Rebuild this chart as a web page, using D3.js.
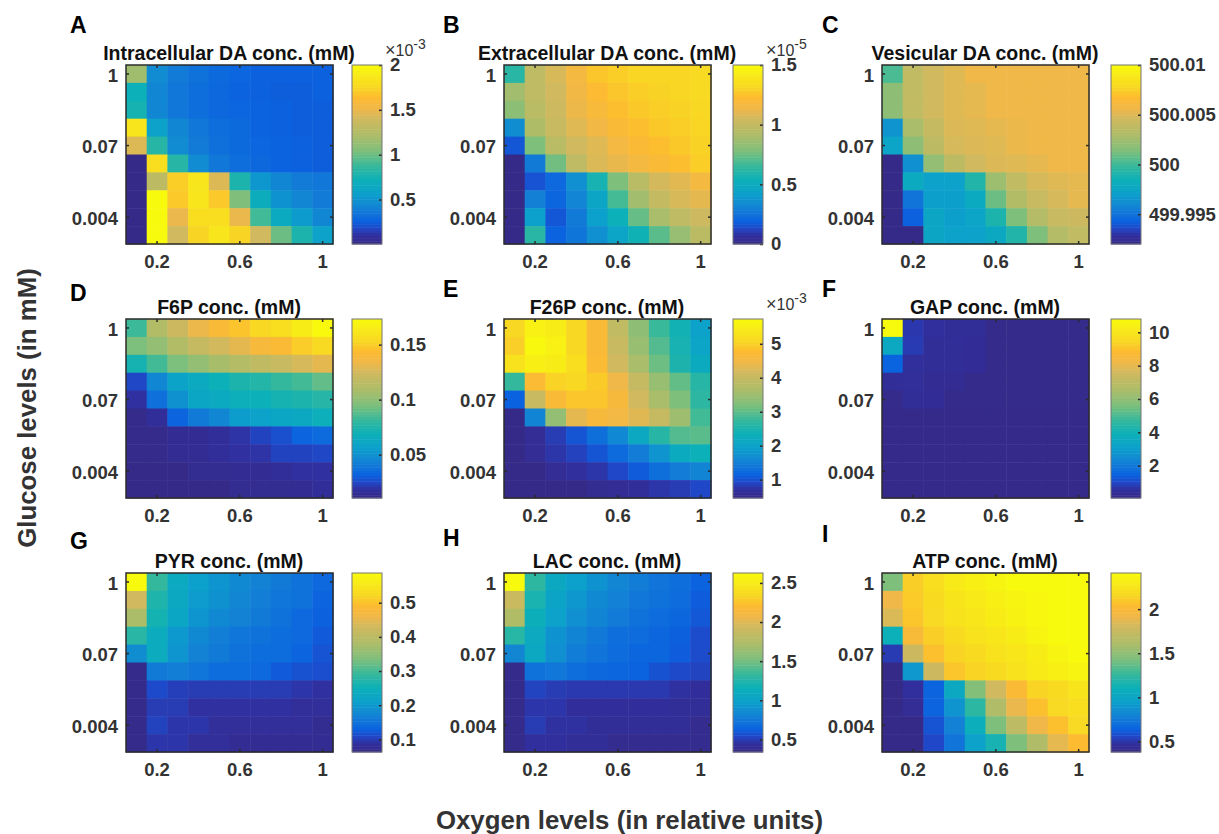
<!DOCTYPE html>
<html>
<head>
<meta charset="utf-8">
<script src="https://cdn.jsdelivr.net/npm/d3@7"></script>
<style>
    html, body { margin: 0; padding: 0; background: #fff; }
    svg { display: block; }
    text { font-family: "Liberation Sans", Arial, sans-serif; font-weight: bold; }
</style>
</head>
<body>
<svg id="chart" width="1219" height="834"></svg>
<script>
// axis levels
const oxygenLevels = [0.1, 0.2, 0.3, 0.4, 0.5, 0.6, 0.7, 0.8, 0.9, 1];
const glucoseRows = [0, 1, 2, 3, 4, 5, 6, 7, 8, 9];
const oxygenTicks = [0.2, 0.6, 1];
const glucoseTicks = [0, 4, 8];
const glucoseTickLabels = ['1', '0.07', '0.004'];

// values, top row first
const intracellularDA = [
    [1.17, .46, .38, .34, .30, .28, .26, .26, .26, .26],
    [.72, .44, .36, .32, .29, .27, .26, .25, .25, .26],
    [.76, .44, .36, .32, .29, .28, .27, .26, .25, .25],
    [1.85, .58, .44, .36, .32, .30, .27, .26, .25, .25],
    [1.45, .82, .46, .38, .33, .30, .28, .27, .26, .25],
    [.01, 1.8, .82, .46, .36, .32, .29, .27, .26, .25],
    [.01, 1.3, 1.72, 1.85, 1.45, .78, .52, .44, .38, .36],
    [.01, 2.0, 1.7, 1.85, 1.7, 1.05, .68, .50, .43, .38],
    [.01, 2.0, 1.5, 1.8, 1.8, 1.5, .9, .66, .54, .44],
    [.01, 2.0, 1.4, 1.75, 1.85, 1.75, 1.4, 1.0, .78, .58]
];
const extracellularDA = [
    [.62, .98, 1.07, 1.17, 1.26, 1.29, 1.31, 1.31, 1.31, 1.33],
    [.88, .98, 1.05, 1.15, 1.22, 1.26, 1.29, 1.3, 1.31, 1.33],
    [.82, .96, 1.04, 1.13, 1.19, 1.24, 1.27, 1.29, 1.3, 1.32],
    [.35, .92, 1.02, 1.09, 1.15, 1.2, 1.24, 1.27, 1.29, 1.31],
    [.17, .78, .96, 1.05, 1.09, 1.16, 1.21, 1.24, 1.27, 1.3],
    [0, .28, .76, .98, 1.08, 1.12, 1.17, 1.2, 1.24, 1.29],
    [0, .16, .22, .36, .57, .78, .96, 1.06, 1.1, 1.17],
    [0, .3, .21, .32, .46, .68, .88, 1.0, 1.07, 1.11],
    [0, .42, .17, .28, .42, .54, .74, .9, .98, 1.04],
    [0, .62, .2, .26, .36, .45, .55, .72, .85, .97]
];
const vesicularDA = [
    [500.0003, 500.0039, 500.0046, 500.0051, 500.0057, 500.0057, 500.0057, 500.0057, 500.0057, 500.0057],
    [500.0019, 500.0039, 500.0046, 500.0051, 500.0053, 500.0057, 500.0057, 500.0057, 500.0057, 500.0057],
    [500.0019, 500.0039, 500.0046, 500.0051, 500.0053, 500.0057, 500.0057, 500.0057, 500.0057, 500.0057],
    [499.9965, 500.0028, 500.0041, 500.0050, 500.0051, 500.0053, 500.0055, 500.0057, 500.0057, 500.0057],
    [499.9974, 500.0019, 500.0037, 500.0048, 500.0050, 500.0051, 500.0055, 500.0057, 500.0057, 500.0057],
    [499.992, 499.9963, 500.0021, 500.0037, 500.0046, 500.0050, 500.0051, 500.0053, 500.0057, 500.0057],
    [499.992, 499.9979, 499.9972, 499.9972, 499.9992, 500.0024, 500.0039, 500.0048, 500.0051, 500.0053],
    [499.992, 499.9951, 499.9970, 499.9970, 499.9979, 500.0010, 500.0032, 500.0042, 500.0048, 500.0053],
    [499.992, 499.9943, 499.9976, 499.9970, 499.9974, 499.9990, 500.0014, 500.0033, 500.0042, 500.0044],
    [499.992, 499.992, 499.9976, 499.9972, 499.9972, 499.9978, 499.9992, 500.0014, 500.0033, 500.0039]
];
const f6p = [
    [.083, .112, .123, .133, .141, .147, .154, .157, .165, .173],
    [.095, .102, .112, .120, .125, .131, .139, .142, .150, .155],
    [.072, .084, .095, .102, .108, .113, .118, .121, .126, .131],
    [.025, .046, .059, .064, .069, .074, .076, .081, .084, .090],
    [.019, .037, .050, .061, .064, .068, .069, .072, .074, .077],
    [.012, .017, .033, .041, .046, .055, .058, .061, .063, .068],
    [.012, .012, .015, .015, .017, .020, .024, .027, .033, .035],
    [.012, .012, .015, .015, .017, .019, .020, .024, .024, .025],
    [.011, .011, .011, .014, .014, .015, .015, .017, .019, .019],
    [.011, .011, .011, .011, .011, .014, .014, .014, .015, .017]
];
const f26p = [
    [5.1, 5.57, 5.47, 5.1, 4.68, 3.94, 3.36, 2.78, 2.41, 1.99],
    [5.0, 5.7, 5.57, 5.1, 4.68, 4.04, 3.46, 2.94, 2.46, 2.04],
    [5.26, 5.52, 5.47, 5.2, 4.73, 4.15, 3.62, 3.1, 2.52, 2.2],
    [2.73, 4.73, 5.04, 5.1, 4.94, 4.47, 4.0, 3.46, 3.04, 2.62],
    [1.15, 4.04, 4.68, 4.89, 4.89, 4.62, 4.15, 3.62, 3.2, 2.67],
    [.46, 1.57, 3.41, 4.36, 4.62, 4.52, 4.31, 4.0, 3.52, 2.83],
    [.46, .62, .83, 1.04, 1.3, 1.62, 2.15, 2.62, 2.94, 2.99],
    [.46, .62, .78, .88, 1.04, 1.25, 1.46, 1.78, 2.2, 2.36],
    [.46, .46, .62, .72, .78, .93, 1.09, 1.3, 1.46, 1.57],
    [.46, .46, .46, .46, .57, .62, .67, .78, .83, .93]
];
const gap = [
    [10.8, .75, .6, .45, .45, .12, .12, .12, .12, .12],
    [3.5, .8, .45, .45, .4, .12, .12, .12, .12, .12],
    [1.5, .55, .45, .45, .4, .12, .12, .12, .12, .12],
    [.45, .5, .35, .35, .12, .12, .12, .12, .12, .12],
    [.12, .45, .4, .12, .12, .12, .12, .12, .12, .12],
    [.1, .1, .1, .1, .1, .1, .1, .1, .1, .1],
    [.1, .1, .1, .1, .1, .1, .1, .1, .1, .1],
    [.1, .1, .1, .1, .1, .1, .1, .1, .1, .1],
    [.1, .1, .1, .1, .1, .1, .1, .1, .1, .1],
    [.1, .1, .1, .1, .1, .1, .1, .1, .1, .1]
];
const pyr = [
    [.587, .29, .235, .21, .195, .18, .17, .16, .15, .14],
    [.43, .27, .23, .205, .19, .175, .165, .155, .15, .135],
    [.38, .26, .225, .195, .18, .17, .16, .15, .14, .13],
    [.28, .24, .20, .18, .165, .155, .15, .145, .14, .125],
    [.185, .24, .195, .17, .16, .15, .145, .145, .135, .12],
    [.068, .16, .165, .155, .145, .145, .14, .125, .118, .115],
    [.068, .112, .103, .1, .1, .1, .1, .1, .095, .09],
    [.068, .1, .1, .09, .09, .09, .09, .09, .085, .085],
    [.068, .105, .095, .095, .085, .085, .085, .085, .085, .074],
    [.068, .095, .095, .085, .085, .076, .076, .076, .076, .076]
];
const lac = [
    [2.627, 1.3, 1.07, .98, .9, .83, .78, .73, .7, .64],
    [1.9, 1.22, 1.03, .93, .85, .8, .75, .72, .69, .62],
    [1.76, 1.15, 1.0, .88, .82, .77, .72, .69, .66, .6],
    [1.28, 1.08, .9, .82, .76, .7, .69, .66, .63, .56],
    [.83, 1.07, .88, .78, .73, .69, .66, .66, .62, .56],
    [.36, .72, .75, .7, .67, .66, .64, .58, .55, .53],
    [.36, .53, .5, .49, .49, .49, .49, .49, .46, .44],
    [.36, .48, .48, .44, .44, .44, .44, .44, .42, .42],
    [.36, .5, .46, .46, .42, .42, .42, .42, .42, .375],
    [.36, .45, .45, .42, .42, .38, .38, .38, .38, .38]
];
const atp = [
    [1.44, 2.13, 2.21, 2.29, 2.33, 2.37, 2.41, 2.41, 2.41, 2.41],
    [1.92, 2.11, 2.19, 2.25, 2.29, 2.33, 2.37, 2.39, 2.41, 2.41],
    [1.84, 2.09, 2.17, 2.23, 2.27, 2.31, 2.35, 2.39, 2.41, 2.41],
    [1.11, 2.0, 2.13, 2.19, 2.23, 2.27, 2.31, 2.37, 2.41, 2.41],
    [.52, 1.78, 2.06, 2.15, 2.19, 2.23, 2.27, 2.31, 2.37, 2.41],
    [.38, .91, 1.78, 2.09, 2.15, 2.19, 2.23, 2.29, 2.33, 2.37],
    [.38, .48, .66, 1.03, 1.46, 1.8, 2.02, 2.15, 2.19, 2.25],
    [.38, .44, .66, .89, 1.23, 1.64, 1.9, 2.06, 2.17, 2.21],
    [.38, .38, .6, .79, 1.09, 1.44, 1.7, 1.92, 2.06, 2.17],
    [.38, .38, .56, .73, .97, 1.15, 1.44, 1.64, 1.88, 2.04]
];

const titles = ['Intracellular DA conc. (mM)', 'Extracellular DA conc. (mM)', 'Vesicular DA conc. (mM)',
    'F6P conc. (mM)', 'F26P conc. (mM)', 'GAP conc. (mM)',
    'PYR conc. (mM)', 'LAC conc. (mM)', 'ATP conc. (mM)'];
const letters = ['A', 'B', 'C', 'D', 'E', 'F', 'G', 'H', 'I'];
const panelValues = [intracellularDA, extracellularDA, vesicularDA, f6p, f26p, gap, pyr, lac, atp];
const colorDomains = [[.004, 2], [0, 1.5], [499.992, 500.01], [.0106, .1733], [.46, 5.73], [.06, 10.8], [.063, .587], [.339, 2.627], [.38, 2.41]];
const colorTicks = [[.5, 1, 1.5, 2], [0, .5, 1, 1.5], [499.995, 500, 500.005, 500.01], [.05, .1, .15], [1, 2, 3, 4, 5], [2, 4, 6, 8, 10], [.1, .2, .3, .4, .5], [.5, 1, 1.5, 2, 2.5], [.5, 1, 1.5, 2]];
const exponents = ['-3', '-5', null, null, '-3', null, null, null, null];

// parula-like map as it looks in the figure
const mapStops = [0, .05, .09, .13, .2, .28, .36, .44, .52, .6, .7, .76, .82, .88, 1];
const mapColors = ['#352a87', '#312f9e', '#1f48c8', '#0b62e0', '#1380d5', '#0ca0cc', '#0cb0b8', '#38b99a', '#7ebf7c', '#a9bd6a', '#d0b95e', '#f0b848', '#fdbb30', '#f8d823', '#f8fa0d'];
const parula = d3.scaleLinear().domain(mapStops).range(mapColors).clamp(true);

// page layout
const panelLefts = [126, 504, 882];
const colorbarLefts = [352, 733, 1111];
const panelTops = [65, 319, 573];
const panelWidth = 207;
const panelHeight = 179;
const colorbarWidth = 30;
const axisColor = '#2b2b2b';
const letterX = [70, 443, 822];
const letterBaselines = [33, 33, 33, 301, 297, 297, 549, 546, 542];

const svg = d3.select('#chart');

const x = d3.scaleBand().domain(oxygenLevels).range([0, panelWidth]);
const y = d3.scaleBand().domain(glucoseRows).range([0, panelHeight]);

const styleAxis = (g) => {
    g.select('.domain').remove();
    g.selectAll('line').attr('stroke', axisColor).attr('stroke-width', 1.5);
    g.selectAll('text').attr('fill', '#333').attr('font-size', 18.5);
};

panelValues.forEach((values, i) => {
    const col = i % 3;
    const row = Math.floor(i / 3);
    const panel = svg.append('g')
        .attr('transform', `translate(${panelLefts[col]},${panelTops[row]})`);
    const color = d3.scaleLinear().domain(colorDomains[i]).range([0, 1]);

    panel.selectAll('g.row')
        .data(values)
        .enter()
        .append('g')
        .attr('class', 'row')
        .attr('transform', (d, r) => `translate(0,${y(r)})`)
        .selectAll('rect')
        .data((d) => d)
        .enter()
        .append('rect')
        .attr('x', (d, c) => x(oxygenLevels[c]))
        .attr('width', x.bandwidth() + 0.5)
        .attr('height', y.bandwidth() + 0.5)
        .attr('fill', (d) => parula(color(d)));

    // bottom + left axes with labels, top + right only ticks
    panel.append('g')
        .attr('transform', `translate(0,${panelHeight})`)
        .call(d3.axisBottom(x).tickValues(oxygenTicks).tickFormat(String).tickSize(-3).tickPadding(11))
        .call(styleAxis);
    panel.append('g')
        .call(d3.axisTop(x).tickValues(oxygenTicks).tickFormat('').tickSize(-3))
        .call(styleAxis);
    panel.append('g')
        .call(d3.axisLeft(y).tickValues(glucoseTicks)
            .tickFormat((d, k) => glucoseTickLabels[k]).tickSize(-3).tickPadding(8))
        .call(styleAxis)
        .selectAll('text').attr('dy', '0.42em');
    panel.append('g')
        .attr('transform', `translate(${panelWidth},0)`)
        .call(d3.axisRight(y).tickValues(glucoseTicks).tickFormat('').tickSize(-3))
        .call(styleAxis);
    panel.append('rect')
        .attr('width', panelWidth)
        .attr('height', panelHeight)
        .attr('fill', 'none')
        .attr('stroke', axisColor)
        .attr('stroke-width', 1.5);

    panel.append('text')
        .attr('x', panelWidth / 2 - 0.5)
        .attr('y', -5)
        .attr('text-anchor', 'middle')
        .attr('font-size', 19.5)
        .attr('fill', '#111')
        .text(titles[i]);

    svg.append('text')
        .attr('x', letterX[col])
        .attr('y', letterBaselines[i])
        .attr('font-size', 23)
        .attr('fill', '#000')
        .text(letters[i]);

    // colorbar, 64 flat levels like the source colormap
    const bar = svg.append('g')
        .attr('transform', `translate(${colorbarLefts[col]},${panelTops[row]})`);
    const barScale = d3.scaleLinear().domain(colorDomains[i]).range([panelHeight, 0]);
    const levels = d3.range(64);
    const levelHeight = panelHeight / 64;
    bar.selectAll('rect')
        .data(levels)
        .enter()
        .append('rect')
        .attr('y', (d) => panelHeight - (d + 1) * levelHeight)
        .attr('width', colorbarWidth)
        .attr('height', levelHeight + 0.5)
        .attr('fill', (d) => parula((d + 0.5) / 64));
    bar.append('g')
        .attr('transform', `translate(${colorbarWidth},0)`)
        .call(d3.axisRight(barScale).tickValues(colorTicks[i]).tickFormat((d) => String(d)).tickSize(-3).tickPadding(8))
        .call(styleAxis);
    bar.append('rect')
        .attr('width', colorbarWidth)
        .attr('height', panelHeight)
        .attr('fill', 'none')
        .attr('stroke', '#777')
        .attr('stroke-width', 1);

    if (exponents[i]) {
        const exp = bar.append('text')
            .attr('x', colorbarWidth + 3)
            .attr('y', -9)
            .attr('fill', '#333')
            .attr('font-size', 16)
            .attr('font-weight', 'normal');
        exp.append('tspan').attr('font-weight', 'normal').attr('font-size', 18).text('×');
        exp.append('tspan').attr('font-weight', 'normal').text('10');
        exp.append('tspan').attr('dy', -7).attr('font-size', 14).attr('font-weight', 'normal').text(exponents[i]);
    }
});

svg.append('text')
    .attr('transform', 'translate(36,408) rotate(-90)')
    .attr('text-anchor', 'middle')
    .attr('font-size', 25.8)
    .attr('fill', '#333')
    .text('Glucose levels (in mM)');

svg.append('text')
    .attr('x', 629.5)
    .attr('y', 829)
    .attr('text-anchor', 'middle')
    .attr('font-size', 25.8)
    .attr('fill', '#333')
    .text('Oxygen levels (in relative units)');
</script>
</body>
</html>
